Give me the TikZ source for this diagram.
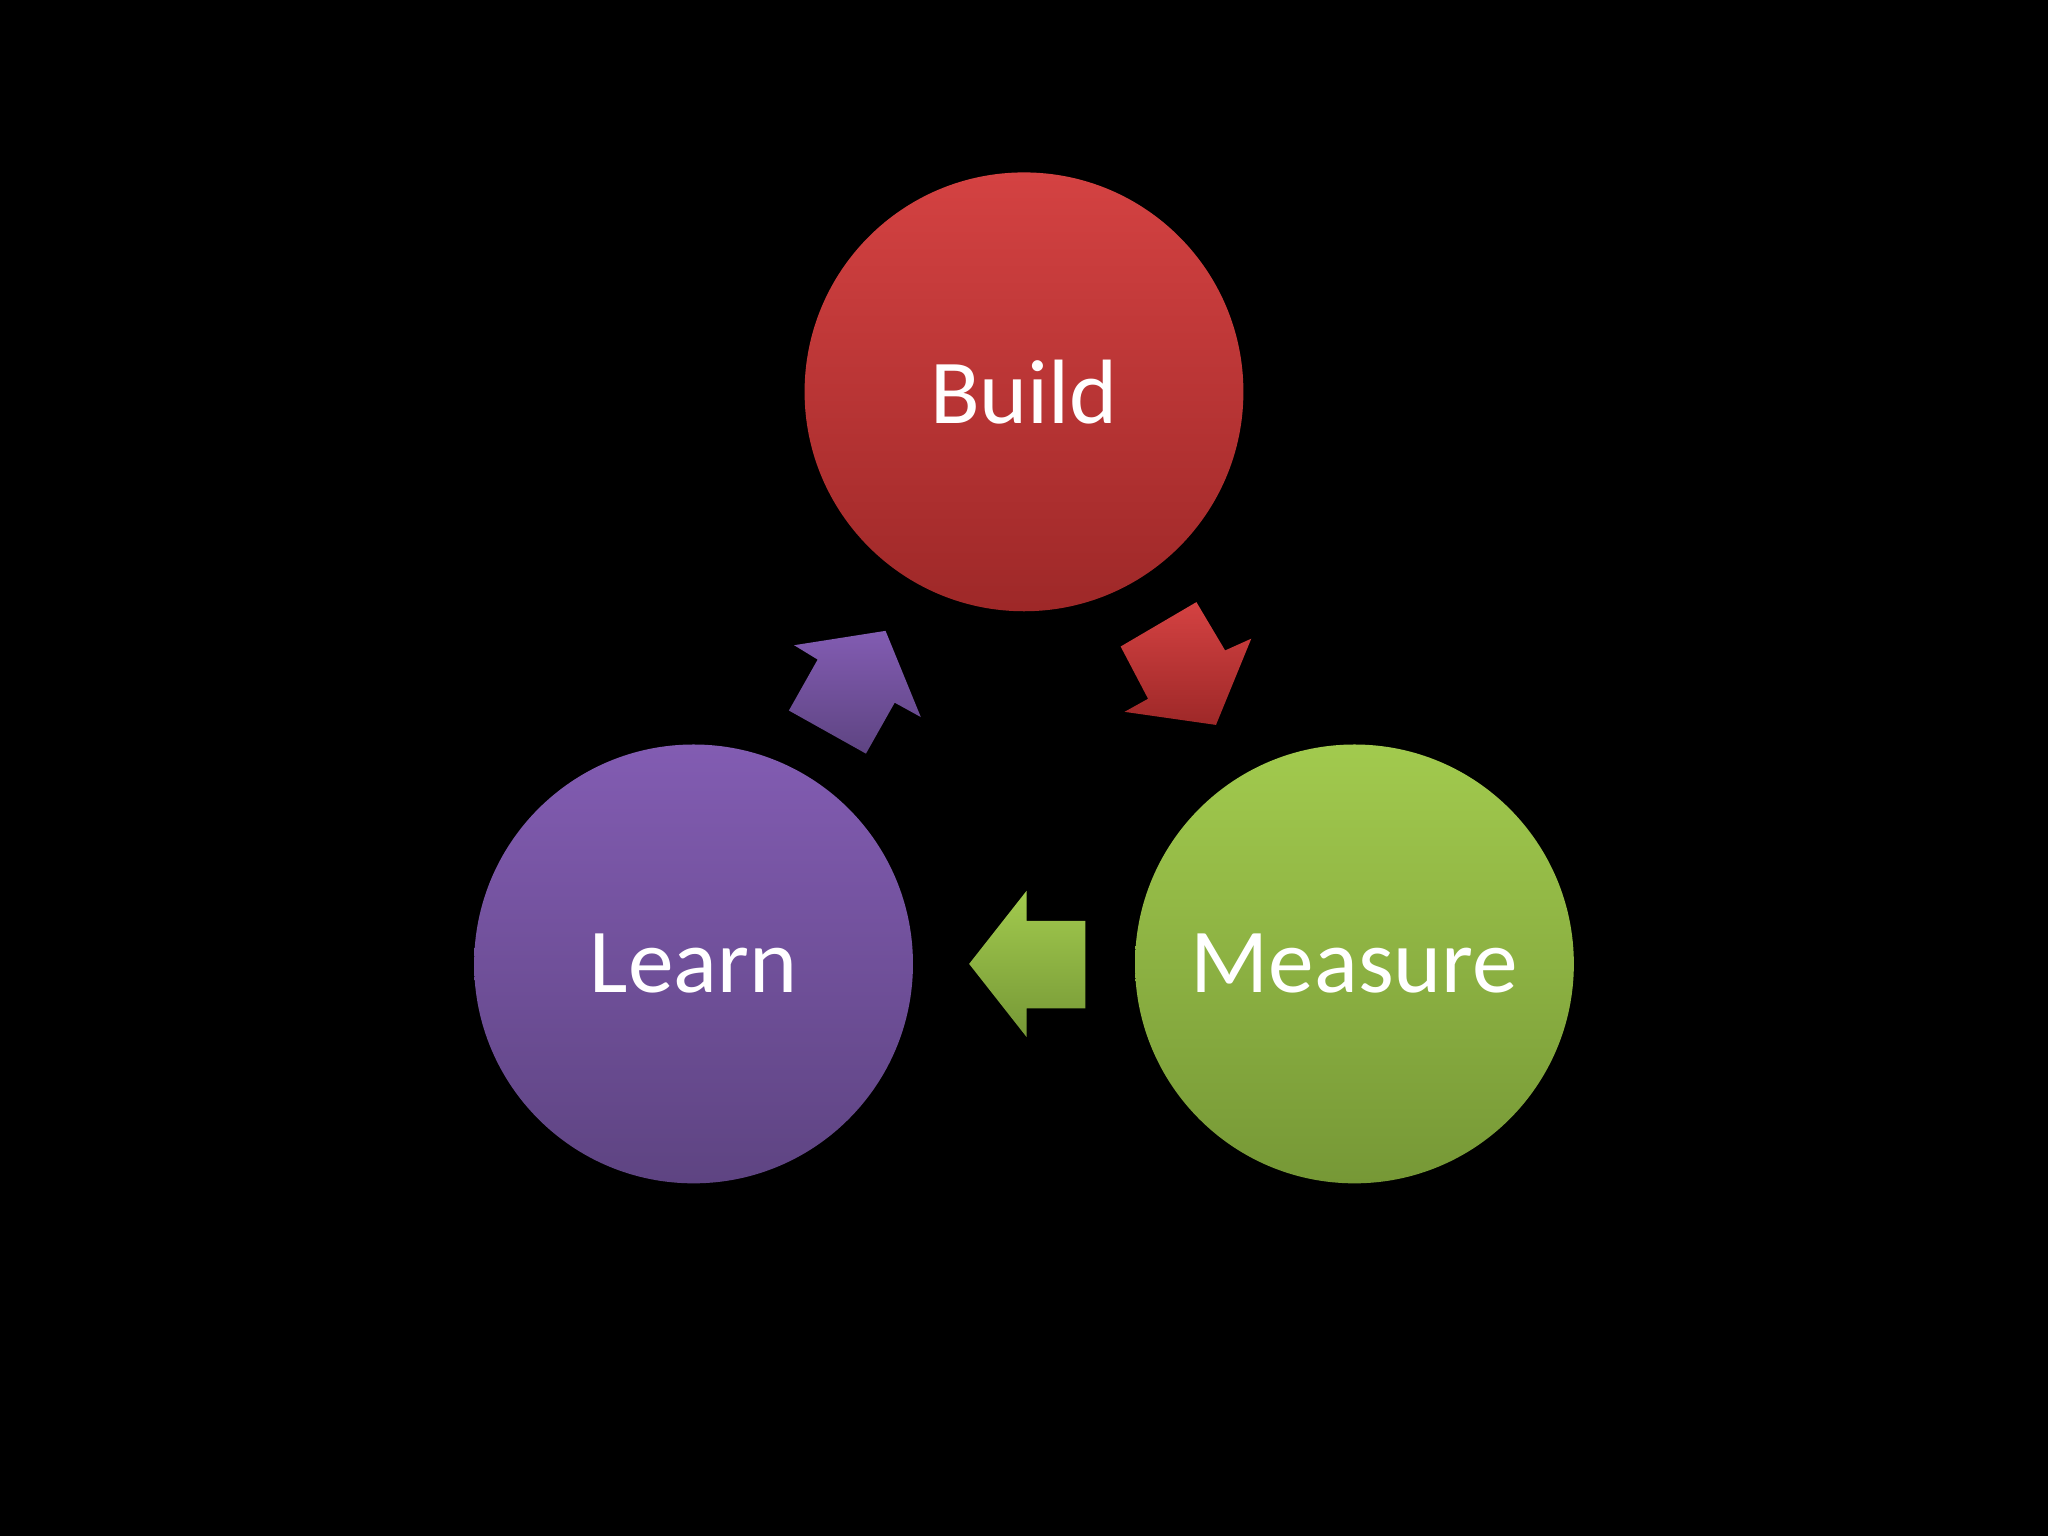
\documentclass[tikz,border=0pt]{standalone}
\usepackage{fontspec}
\setmainfont{Carlito}
\begin{document}
\begin{tikzpicture}[x=0.01306cm,y=-0.01306cm,
  circ/.style={circle,minimum size={336*0.01306cm},inner sep=0pt,text=white,font=\fontsize{26}{30}\selectfont},
  arr/.style={draw=none}]
\definecolor{rt}{RGB}{212,66,66}\definecolor{rb}{RGB}{158,40,40}
\definecolor{gt}{RGB}{162,202,78}\definecolor{gb}{RGB}{118,152,54}
\definecolor{pt}{RGB}{130,92,178}\definecolor{pb}{RGB}{94,68,130}
\fill[black] (0,0) rectangle (1568,1176);
\useasboundingbox (0,0) rectangle (1568,1176);
\node[circ,top color=rt,bottom color=rb] (build) at (784,300) {Build};
\node[circ,top color=pt,bottom color=pb] (learn) at (531,738) {Learn};
\node[circ,top color=gt,bottom color=gb] (measure) at (1037,738) {Measure};
\shade[arr,top color=rt,bottom color=rb] (858,495)--(916,461)--(938,498)--(958,489)--(931,555)--(861,545)--(879,535)--cycle;
\shade[arr,top color=pt,bottom color=pb] (604,544)--(626,505)--(608,494)--(678,483)--(705,549)--(685,538)--(663,577)--cycle;
\shade[arr,top color=gt,bottom color=gb] (831,705)--(786,705)--(786,682)--(742,738)--(786,794)--(786,772)--(831,772)--cycle;
\end{tikzpicture}
\end{document}
